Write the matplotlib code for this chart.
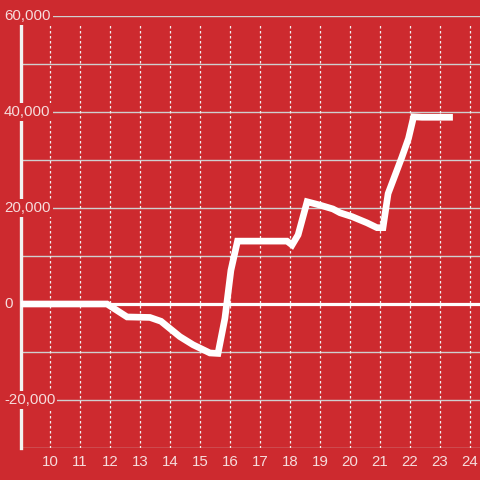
import numpy as np
import matplotlib
matplotlib.use("Agg")
import matplotlib.pyplot as plt
import matplotlib.transforms as mtransforms

# values
xs = [9.03, 11.9, 12.57, 13.33, 13.7, 14.33, 14.77, 15.1, 15.33, 15.6,
      15.83, 16.03, 16.25, 17.9, 18.07, 18.27, 18.57, 19.0, 19.43, 19.67,
      20.07, 20.57, 20.9, 21.1, 21.27, 21.73, 21.95, 22.12, 22.4, 23.43]
ys = [0, 0, -2700, -2800, -3600, -6800, -8500, -9500, -10200, -10300,
      -3000, 7000, 13100, 13100, 12300, 14400, 21300, 20600, 19800, 19000,
      18200, 16900, 15900, 15900, 23000, 30600, 34500, 39000, 38900, 38900]
xticks = list(range(10, 25))
yticks = [60000, 40000, 20000, 0, -20000]
ygrid = list(range(-30000, 60001, 10000))

bg = '#cd2a2f'
txt = '#f6dcdc'
plt.rcParams['font.family'] = ['Liberation Sans', 'DejaVu Sans']

fig = plt.figure(figsize=(4.8, 4.8), dpi=100, facecolor=bg)
ax = fig.add_axes([21 / 480, 32 / 480, 459 / 480, 432 / 480])
ax.set_facecolor(bg)
ax.set_xlim(9.0333, 24.3333)
ax.set_ylim(-30000, 60000)

for g in ygrid:
    if g == 0:
        continue
    ax.axhline(g, color='#cfcfcf', lw=1, zorder=1)
ax.vlines(xticks, -30000, 58400, colors='#f0f0f0', linestyles=(0, (2, 2)), lw=0.9, zorder=1)
ax.axhline(0, color='white', lw=2.3, zorder=2)

ax.plot(xs, ys, color='white', lw=4.8, solid_capstyle='butt', solid_joinstyle='miter', zorder=3)

for s in ['top', 'right', 'bottom']:
    ax.spines[s].set_visible(False)
ax.spines['left'].set_color('#f2f2f2')
ax.spines['left'].set_linewidth(2.4)
ax.spines['left'].set_zorder(2)

ax.set_xticks(xticks)
ax.set_yticks([])
ax.tick_params(axis='x', length=0, pad=5, labelsize=10.8, labelcolor=txt)

trans = mtransforms.blended_transform_factory(fig.transFigure, ax.transData)
for v in yticks:
    ax.text(4 / 480, v, f"{v:,}", transform=trans, ha='left', va='center',
            fontsize=10.8, color=txt, zorder=5,
            bbox=dict(facecolor=bg, edgecolor='none', pad=1.5), clip_on=False)

fig.savefig('out.png', dpi=100, facecolor=bg)
